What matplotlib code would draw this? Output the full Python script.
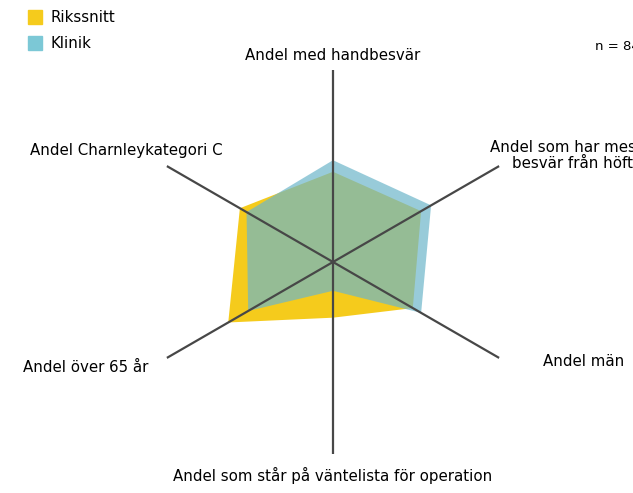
import numpy as np
import matplotlib.pyplot as plt

categories = ["Andel med handbesvär",
              "Andel som har mest\nbesvär från höften",
              "Andel män",
              "Andel som står på väntelista för operation",
              "Andel över 65 år",
              "Andel Charnleykategori C"]
rikssnitt = [0.47, 0.53, 0.48, 0.29, 0.63, 0.56]
klinik = [0.53, 0.59, 0.53, 0.15, 0.51, 0.52]
n_text = "n = 84"

W, H = 633, 493
fig = plt.figure(figsize=(W / 100, H / 100), dpi=100)

# polar axes centred at (333, 262) px, radius ~192 px
cx, cy, R = 333, 262, 192
ax = fig.add_axes([(cx - R) / W, (H - cy - R) / H, 2 * R / W, 2 * R / H],
                  projection="polar")
ax.set_theta_offset(np.pi / 2)
ax.set_theta_direction(-1)
ax.set_ylim(0, 1)
ax.axis("off")

angles = np.arange(len(categories)) * 2 * np.pi / len(categories)
closed = np.append(angles, angles[0])

ax.fill(closed, rikssnitt + rikssnitt[:1], color="#F5CB1C", lw=0, zorder=2)
ax.fill(closed, klinik + klinik[:1], color="#6DB6CA", alpha=0.7, lw=0, zorder=3)

for a in angles:
    ax.plot([a, a], [0, 1], color="#474747", lw=1.6, zorder=4, solid_capstyle="butt")

fs = 10.8
def px(x, y):
    return x / W, 1 - y / H

fig.text(*px(333, 55), categories[0], ha="center", va="center", fontsize=fs)
# this label runs past the right edge, as in the original
line1, line2 = categories[1].split("\n")
fig.text(*px(490, 148), line1, ha="left", va="center", fontsize=fs)
fig.text(*px(512, 164), line2, ha="left", va="center", fontsize=fs)
fig.text(*px(624, 361), categories[2], ha="right", va="center", fontsize=fs)
fig.text(*px(333, 475), categories[3], ha="center", va="center", fontsize=fs)
fig.text(*px(23, 367), categories[4], ha="left", va="center", fontsize=fs)
fig.text(*px(30, 150), categories[5], ha="left", va="center", fontsize=fs)
fig.text(*px(595, 47), n_text, ha="left", va="center", fontsize=9.5)

# legend
for i, (name, col) in enumerate([("Rikssnitt", "#F5CB1C"), ("Klinik", "#7CC8D6")]):
    y = 17 + i * 26
    fig.patches.append(plt.Rectangle(px(28, y + 7), 14 / W, 14 / H,
                                     transform=fig.transFigure, color=col))
    fig.text(*px(50, y), name, ha="left", va="center", fontsize=fs)

fig.savefig("out.png", dpi=100)
